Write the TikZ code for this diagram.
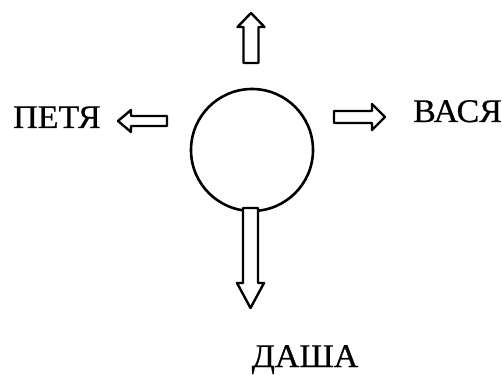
\documentclass[tikz,border=0pt]{standalone}
\usepackage{fontspec}
\setmainfont{Liberation Serif}
\newfontfamily\lblfont[FakeStretch=1.03, FakeBold=0.6]{Liberation Serif}
\begin{document}
\begin{tikzpicture}[x=1pt,y=-1pt,
  line join=round,
  blk/.style={draw=black, line width=2.4pt, fill=white},
  lbl/.style={inner sep=0pt, font=\lblfont\fontsize{33}{33}\selectfont}]
\useasboundingbox (0,0) rectangle (502,374);
% circle
\node (c) [draw, circle, line width=2.6pt, minimum size=122pt, inner sep=0pt] at (252,150) {};
% up arrow
\draw[blk] (243.5,63) -- (243.5,27) -- (237.5,27) -- (251,13) -- (264.5,27) -- (258.5,27) -- (258.5,63) -- cycle;
% left arrow
\draw[blk] (167,116) -- (131,116) -- (131,110) -- (118,121) -- (131,132) -- (131,126) -- (167,126) -- cycle;
% right arrow
\draw[blk] (334,111) -- (372,111) -- (372,104) -- (385,117) -- (372,130) -- (372,123) -- (334,123) -- cycle;
% down arrow
\draw[blk] (243,208) -- (243,283) -- (237,283) -- (250.5,308) -- (264,283) -- (258,283) -- (258,208) -- cycle;
% labels
\node (p) [lbl, anchor=base west] at (13,128) {ПЕТЯ};
\node (v) [lbl, anchor=base west] at (413,122) {ВАСЯ};
\node (d) [lbl, anchor=base] at (305,367) {ДАША};
\end{tikzpicture}
\end{document}
